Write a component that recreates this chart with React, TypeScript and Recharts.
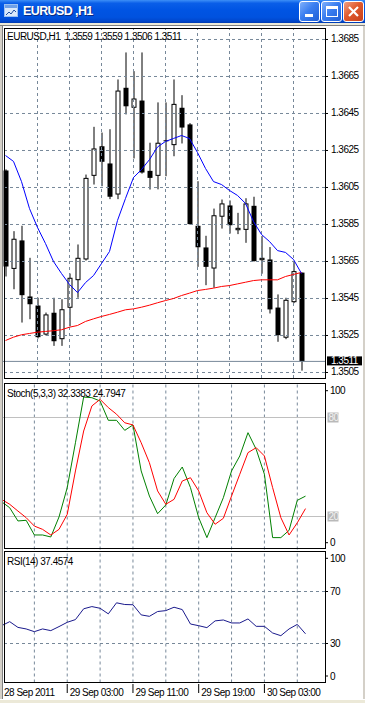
import React from 'react';
import { ComposedChart, Bar, Line, XAxis, YAxis, ReferenceLine } from 'recharts';

// ---------------- data ----------------
const opens = [1.36142, 1.3561, 1.35764, 1.35461, 1.35412, 1.35255, 1.35373, 1.3523, 1.354, 1.35549, 1.35661, 1.36113, 1.36273, 1.3618, 1.36012, 1.36589, 1.36481, 1.3652, 1.3614, 1.36113, 1.363, 1.36279, 1.36481, 1.36391, 1.35843, 1.35726, 1.35612, 1.35892, 1.35953, 1.35819, 1.35821, 1.35951, 1.35657, 1.35661, 1.35401, 1.35238, 1.3543, 1.3559];
const highs = [1.36148, 1.35814, 1.35843, 1.3567, 1.35454, 1.35374, 1.35454, 1.35446, 1.35585, 1.35742, 1.3612, 1.36378, 1.36347, 1.36365, 1.36634, 1.3678, 1.36679, 1.3678, 1.36292, 1.3651, 1.3651, 1.36634, 1.36549, 1.36398, 1.36084, 1.35789, 1.35936, 1.35985, 1.3598, 1.35913, 1.35992, 1.36, 1.35787, 1.35728, 1.35472, 1.35454, 1.35648, 1.3559];
const lows = [1.35569, 1.355, 1.3532, 1.35338, 1.35234, 1.3525, 1.35194, 1.35194, 1.353, 1.35454, 1.35655, 1.36066, 1.36057, 1.35987, 1.35987, 1.36445, 1.36207, 1.36125, 1.36039, 1.3604, 1.36111, 1.36219, 1.36288, 1.3585, 1.35621, 1.35522, 1.35508, 1.35828, 1.35801, 1.35798, 1.35751, 1.3565, 1.35584, 1.35369, 1.35216, 1.3523, 1.35425, 1.3506];
const closes = [1.35623, 1.35773, 1.35468, 1.35419, 1.35241, 1.35364, 1.35219, 1.35392, 1.35562, 1.3567, 1.36102, 1.36261, 1.36189, 1.36, 1.36574, 1.36489, 1.36531, 1.36131, 1.36102, 1.36292, 1.36305, 1.36502, 1.36374, 1.35852, 1.35727, 1.35621, 1.359, 1.35964, 1.35846, 1.35832, 1.35964, 1.35652, 1.3567, 1.35391, 1.35252, 1.35443, 1.35598, 1.3511];
const maFast = [1.36223, 1.36191, 1.36082, 1.35936, 1.35834, 1.35747, 1.3565, 1.35585, 1.35526, 1.35482, 1.35536, 1.35574, 1.35639, 1.35704, 1.35872, 1.35991, 1.36104, 1.36147, 1.36201, 1.36269, 1.36299, 1.36315, 1.36331, 1.36315, 1.36239, 1.36153, 1.36082, 1.36066, 1.36034, 1.36007, 1.35964, 1.35866, 1.35796, 1.35758, 1.35709, 1.35699, 1.35661, 1.35585];
const maSlow = [1.35223, 1.35241, 1.35254, 1.35261, 1.35268, 1.35272, 1.35276, 1.35281, 1.35295, 1.35304, 1.35326, 1.3534, 1.35353, 1.35364, 1.35376, 1.35389, 1.35394, 1.35403, 1.35414, 1.35427, 1.35439, 1.3545, 1.35466, 1.35479, 1.35493, 1.35499, 1.35506, 1.35515, 1.3552, 1.35529, 1.35538, 1.35547, 1.35551, 1.35551, 1.35551, 1.35569, 1.3558, 1.35591];
const stochK = [29, 25.3, 17.3, 17.7, 8.8, 8.8, 7.6, 19.7, 37.5, 64.7, 92.4, 92, 90, 78.3, 78.3, 72.2, 75.5, 47.6, 32.4, 21.7, 27, 43, 50, 37.5, 19.3, 7.2, 19.3, 31.4, 47.6, 56.7, 70.8, 60.7, 45.6, 7.2, 7.2, 11.6, 29.8, 32.34];
const stochD = [30.4, 27.4, 23.3, 19.3, 14.2, 12.2, 8.8, 12.2, 21.3, 47.6, 71.8, 87, 91, 86, 82, 76.8, 75.5, 64.7, 52.6, 35.5, 27.4, 30.4, 41.5, 43.5, 35.5, 22.3, 15.3, 18.9, 32.4, 45.6, 58.7, 61.7, 56.7, 37.5, 19.3, 8.8, 16.2, 24.79];
const rsi = [43.7, 46.8, 42.4, 41.2, 39.1, 41.2, 39.9, 43, 46.3, 48.4, 56.7, 58.4, 57.1, 52.8, 61.3, 60, 59.8, 52, 50.9, 54.6, 55.3, 57.9, 56.1, 45, 43.7, 42.2, 47.4, 48.1, 45.8, 45.8, 48.9, 43.2, 43.2, 38.1, 36, 41.2, 44.7, 37.46];

const priceTicks = [1.3505, 1.3525, 1.3545, 1.3565, 1.3585, 1.3605, 1.3625, 1.3645, 1.3665, 1.3685];
const bidPrice = 1.3511;
const stochTicks = [0, 20, 80, 100];
const stochLevels = [20, 80];
const rsiTicks = [0, 30, 70, 100];
const rsiLevels = [30, 70];
const gridBars = [4, 8, 12, 16, 20, 24, 28, 32, 36];
const timeBars = [0, 8, 16, 24, 32];
const timeLabels = ['28 Sep 2011', '29 Sep 03:00', '29 Sep 11:00', '29 Sep 19:00', '30 Sep 03:00'];
const mainTitle = 'EURUSD,H1  1.3559 1.3559 1.3506 1.3511';
const stochTitle = 'Stoch(5,3,3) 32.3383 24.7947';
const rsiTitle = 'RSI(14) 37.4574';
const windowTitle = 'EURUSD ,H1';

const data = opens.map((o, i) => ({
  i,
  open: o,
  high: highs[i],
  low: lows[i],
  close: closes[i],
  range: [lows[i], highs[i]],
  maFast: maFast[i],
  maSlow: maSlow[i],
  k: stochK[i],
  d: stochD[i],
  rsi: rsi[i],
}));

// ---------------- layout constants ----------------
const CHART_W = 365;
const PLOT_RIGHT = 325;
const Y_W = CHART_W - PLOT_RIGHT;
const PAD_RIGHT = 19.5;
const FONT = '"Liberation Sans", Arial, sans-serif';
const GRID = '#778899';
const txt: React.CSSProperties = { fontFamily: FONT, fontSize: 10, letterSpacing: -0.5 };

// ---------------- shapes ----------------
const Candle = (props: any) => {
  const { x, y, width, height, payload } = props;
  if (!payload || width == null || y == null) return null;
  const { open, high, low, close } = payload;
  const span = high - low || 1e-9;
  const py = (p: number) => y + ((high - p) / span) * height;
  const cx = x + width / 2;
  const yO = py(open);
  const yC = py(close);
  const top = Math.min(yO, yC);
  const bot = Math.max(yO, yC);
  const bull = close >= open;
  let body;
  if (bot - top < 1.2) {
    const m = (top + bot) / 2;
    body = <line x1={cx - 2.5} x2={cx + 2.5} y1={m} y2={m} stroke="#000" strokeWidth={1} />;
  } else if (bull) {
    body = <rect x={cx - 2} y={top + 0.5} width={4} height={bot - top - 1} fill="#fff" stroke="#000" strokeWidth={1} />;
  } else {
    body = <rect x={cx - 2.5} y={top} width={5} height={bot - top} fill="#000" />;
  }
  return (
    <g>
      <line x1={cx} x2={cx} y1={y} y2={y + height} stroke="#000" strokeWidth={1} />
      {body}
    </g>
  );
};

const PriceTick = (props: any) => {
  const { y, payload } = props;
  const v = payload.value as number;
  const label = v.toFixed(4);
  if (Math.abs(v - bidPrice) < 1e-9) {
    return (
      <g>
        <rect x={327} y={y - 5} width={35} height={9} fill="#000" />
        <text x={331} y={y + 3} fill="#fff" style={txt}>{label}</text>
      </g>
    );
  }
  return (
    <g>
      <line x1={PLOT_RIGHT} x2={PLOT_RIGHT + 3} y1={y} y2={y} stroke="#000" />
      <text x={331} y={y + 3} fill="#000" style={txt}>{label}</text>
    </g>
  );
};

const LevelTick = (levels: number[], topOff: number, botOff: number) => (props: any) => {
  const { y, payload } = props;
  const v = payload.value as number;
  if (levels.includes(v) && levels === stochLevels) {
    return (
      <g>
        <rect x={327.5} y={y - 5} width={11} height={10} fill="#b9b9b9" />
        <text x={328.5} y={y + 3.5} fill="#f2f2f2" style={txt}>{v}</text>
      </g>
    );
  }
  let ty = y;
  if (v === 100) ty = y + topOff;
  if (v === 0) ty = y - botOff;
  return (
    <g>
      <line x1={PLOT_RIGHT} x2={PLOT_RIGHT + 3} y1={ty} y2={ty} stroke="#000" />
      <text x={330} y={ty + 3.5} fill="#000" style={txt}>{v}</text>
    </g>
  );
};

const StochTick = LevelTick(stochLevels, 6.2, 6.8);
const RsiTick = LevelTick(rsiLevels, 5.8, 6.5);

const TimeTick = (props: any) => {
  const { x, payload } = props;
  const k = timeBars.indexOf(payload.value);
  if (k < 0) return null;
  return (
    <g>
      <line x1={x} x2={x} y1={132} y2={141} stroke="#000" />
      <text x={x + 2.5} y={143.5} fill="#000" style={txt}>{timeLabels[k]}</text>
    </g>
  );
};

const vGrid = () =>
  gridBars.map((b) => (
    <ReferenceLine key={'vg' + b} x={b} stroke={GRID} strokeDasharray="3 3" strokeWidth={1} />
  ));

const abs = (l: number, t: number, w: number, h: number): React.CSSProperties => ({
  position: 'absolute', left: l, top: t, width: w, height: h, boxSizing: 'border-box',
});

const TitleButton = ({ left, close, kind }: { left: number; close?: boolean; kind: string }) => (
  <div
    style={{
      ...abs(left, 1, 21, 21),
      borderRadius: 3,
      border: '1px solid #fff',
      background: close
        ? 'linear-gradient(135deg, #f0a083 0%, #e05a2e 45%, #c8401a 100%)'
        : 'linear-gradient(135deg, #7fb0fb 0%, #3a7ef0 45%, #1f5fd6 100%)',
    }}
  >
    {kind === 'min' && <div style={{ ...abs(5, 12, 8, 3), background: '#fff' }} />}
    {kind === 'max' && <div style={{ ...abs(4, 4, 12, 11), border: '1px solid #fff', borderTop: '3px solid #fff' }} />}
    {kind === 'close' && (
      <svg width={19} height={19} style={{ position: 'absolute', left: 0, top: 0 }}>
        <line x1={5} y1={5} x2={14} y2={14} stroke="#fff" strokeWidth={2.2} />
        <line x1={14} y1={5} x2={5} y2={14} stroke="#fff" strokeWidth={2.2} />
      </svg>
    )}
  </div>
);

export default function App() {
  return (
    <div style={{ ...abs(0, 0, 365, 703), background: '#fff', overflow: 'hidden', fontFamily: FONT }}>
      {/* main price panel */}
      <div style={abs(0, 28, CHART_W, 350)}>
        <ComposedChart width={CHART_W} height={350} data={data} margin={{ top: 0, right: 0, bottom: 0, left: 1.5 }}>
          <XAxis dataKey="i" type="category" hide padding={{ left: 0, right: PAD_RIGHT }} />
          <YAxis
            orientation="right"
            width={Y_W}
            type="number"
            domain={[1.3502027, 1.3691216]}
            allowDataOverflow
            ticks={[...priceTicks, bidPrice]}
            interval={0}
            tick={PriceTick}
            tickLine={false}
            axisLine={false}
          />
          {priceTicks.map((p) => (
            <ReferenceLine key={'hg' + p} y={p} stroke={GRID} strokeDasharray="3 3" strokeWidth={1} />
          ))}
          {vGrid()}
          <ReferenceLine y={bidPrice} stroke={GRID} strokeWidth={1} />
          <Bar dataKey="range" barSize={5} isAnimationActive={false} shape={(p: any) => <Candle {...p} />} />
          <Line type="linear" dataKey="maSlow" stroke="#ff0000" strokeWidth={1} dot={false} activeDot={false} isAnimationActive={false} />
          <Line type="linear" dataKey="maFast" stroke="#0000ff" strokeWidth={1} dot={false} activeDot={false} isAnimationActive={false} />
        </ComposedChart>
      </div>

      {/* stochastic panel */}
      <div style={abs(0, 383, CHART_W, 167)}>
        <ComposedChart width={CHART_W} height={167} data={data} margin={{ top: 1.5, right: 0, bottom: 0.5, left: 1.5 }}>
          <XAxis dataKey="i" type="category" hide padding={{ left: 0, right: PAD_RIGHT }} />
          <YAxis
            orientation="right"
            width={Y_W}
            type="number"
            domain={[0, 100]}
            allowDataOverflow
            ticks={stochTicks}
            interval={0}
            tick={StochTick}
            tickLine={false}
            axisLine={false}
          />
          {vGrid()}
          {stochLevels.map((l) => (
            <ReferenceLine key={'sl' + l} y={l} stroke="#c0c0c0" strokeWidth={1} />
          ))}
          <Line type="linear" dataKey="k" stroke="#008000" strokeWidth={1} dot={false} activeDot={false} isAnimationActive={false} />
          <Line type="linear" dataKey="d" stroke="#ff0000" strokeWidth={1} dot={false} activeDot={false} isAnimationActive={false} />
        </ComposedChart>
      </div>

      {/* RSI panel */}
      <div style={abs(0, 552, CHART_W, 151)}>
        <ComposedChart width={CHART_W} height={151} data={data} margin={{ top: 0.5, right: 0, bottom: 0.5, left: 1.5 }}>
          <XAxis
            dataKey="i"
            type="category"
            height={20}
            padding={{ left: 0, right: PAD_RIGHT }}
            interval={0}
            tick={TimeTick}
            tickLine={false}
            axisLine={false}
          />
          <YAxis
            orientation="right"
            width={Y_W}
            type="number"
            domain={[0, 100]}
            allowDataOverflow
            ticks={rsiTicks}
            interval={0}
            tick={RsiTick}
            tickLine={false}
            axisLine={false}
          />
          {vGrid()}
          {rsiLevels.map((l) => (
            <ReferenceLine key={'rl' + l} y={l} stroke={GRID} strokeDasharray="3 3" strokeWidth={1} />
          ))}
          <Line type="linear" dataKey="rsi" stroke="#1a1a8c" strokeWidth={1} dot={false} activeDot={false} isAnimationActive={false} />
        </ComposedChart>
      </div>

      {/* panel frames */}
      <div style={{ ...abs(4, 28, 322, 351), border: '1px solid #000', pointerEvents: 'none' }} />
      <div style={{ ...abs(4, 383, 322, 166), border: '1px solid #000', pointerEvents: 'none' }} />
      <div style={{ ...abs(4, 551, 322, 132), border: '1px solid #000', pointerEvents: 'none' }} />

      {/* panel captions */}
      <div style={{ ...abs(7, 31, 200, 12), ...txt, lineHeight: '12px', whiteSpace: 'pre', color: '#000' }}>{mainTitle}</div>
      <div style={{ ...abs(7, 388, 200, 12), ...txt, lineHeight: '12px', whiteSpace: 'pre', color: '#000' }}>{stochTitle}</div>
      <div style={{ ...abs(7, 556, 200, 12), ...txt, lineHeight: '12px', whiteSpace: 'pre', color: '#000' }}>{rsiTitle}</div>

      {/* window borders */}
      <div style={{ ...abs(0, 22, 3, 681), background: '#d4d0c8', borderRight: '1px solid #808080' }} />
      <div style={{ ...abs(362, 22, 3, 681), background: '#d4d0c8', borderLeft: '1px solid #ffffff' }} />
      <div style={{ ...abs(0, 22, 365, 4), background: '#ece9d8', borderBottom: '1px solid #808080' }} />
      <div style={{ ...abs(0, 699, 365, 4), background: '#ece9d8', borderTop: '1px solid #ffffff' }} />

      {/* title bar */}
      <div
        style={{
          ...abs(0, 0, 365, 23),
          background: 'linear-gradient(180deg, #3d8ff7 0%, #0a5ee8 14%, #0054e3 45%, #0052df 75%, #0046cc 92%, #003ab0 100%)',
        }}
      >
        <div style={{ ...abs(4, 4, 14, 13), background: '#dbe9fb', border: '1px solid #9cc1f2' }}>
          <div style={{ ...abs(0, 0, 12, 3), background: '#6ea0e8' }} />
          <svg width={12} height={9} style={{ position: 'absolute', left: 0, top: 3 }}>
            <polyline points="1,7 4,4 6,6 9,2 11,4" fill="none" stroke="#2050a0" strokeWidth={1} />
          </svg>
        </div>
        <div
          style={{
            position: 'absolute', left: 23, top: 4, color: '#fff', fontFamily: FONT, fontWeight: 'bold',
            fontSize: 12.5, letterSpacing: -0.6, lineHeight: '15px', whiteSpace: 'pre', textShadow: '1px 1px 0 #0a2a80',
          }}
        >
          {windowTitle}
        </div>
        <TitleButton left={299} kind="min" />
        <TitleButton left={321} kind="max" />
        <TitleButton left={343} close kind="close" />
      </div>
    </div>
  );
}
